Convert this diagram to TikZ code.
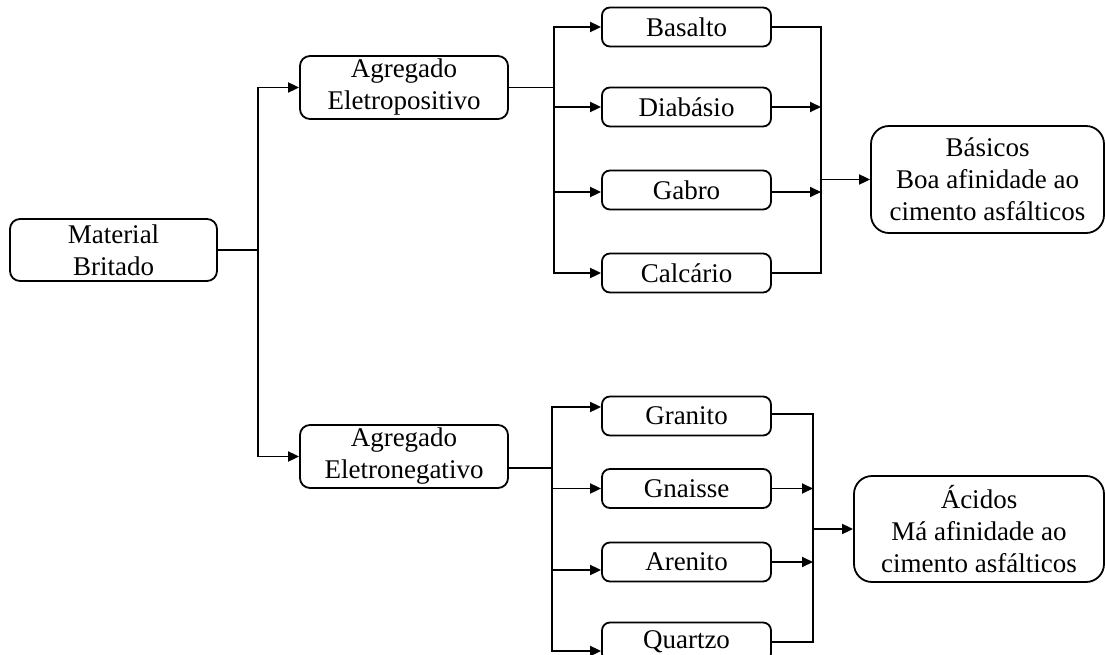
\documentclass[tikz,border=0pt]{standalone}
\usepackage{fontspec}
\setmainfont{Liberation Serif}
\usetikzlibrary{arrows.meta}
\begin{document}
\begin{tikzpicture}[x=1pt,y=-1pt,
  box/.style={draw, line width=1.8pt, rounded corners=8pt, inner sep=0pt,
    align=center, font=\fontsize{27}{32}\selectfont},
  rock/.style={box, minimum width=169pt, minimum height=39pt},
  group/.style={box, rounded corners=18pt, minimum width=#1, minimum height=107pt},
  link/.style={line width=1.8pt},
  arr/.style={link, -{Triangle[length=11pt,width=10pt]}}]
\path[use as bounding box, clip] (0,0) rectangle (1105,655);

% source and the two aggregate classes
\node[box, rounded corners=10pt, minimum width=207pt, minimum height=62pt] (mb) at (113.5,250) {Material\\Britado};
\node[box, rounded corners=10pt, minimum width=208pt, minimum height=63pt] (ap) at (404,87.5) {Agregado\\Eletropositivo};
\node[box, rounded corners=10pt, minimum width=208pt, minimum height=63pt] (an) at (404,456.5) {Agregado\\Eletronegativo};

% basic rocks
\node[rock] (bas) at (686.5,27) {Basalto};
\node[rock] (dia) at (686.5,107) {Diabásio};
\node[rock] (gab) at (686.5,190) {Gabro};
\node[rock] (cal) at (686.5,273) {Calcário};
\node[group=233pt] (bsc) at (987.5,179.5) {Básicos\\Boa afinidade ao\\cimento asfálticos};

% acid rocks
\node[rock] (gra) at (686.5,416) {Granito};
\node[rock] (gna) at (686.5,488.5) {Gnaisse};
\node[rock] (are) at (686.5,562) {Arenito};
\node[rock] (qua) at (686.5,642) {Quartzo};
\node[group=250pt, minimum height=106pt] (aci) at (979,529) {Ácidos\\Má afinidade ao\\cimento asfálticos};

% junction points
\coordinate (tk) at (258,250);
\coordinate (ub) at (554,87.5);
\coordinate (lb) at (552,468);
\coordinate (uc) at (821,179.5);
\coordinate (lc) at (813,529);

% main split
\draw[link] (mb.east) -- (tk);
\draw[arr] (tk) |- (ap.west);
\draw[arr] (tk) |- (an.west);

% upper branch
\draw[link] (ap.east) -- (ub);
\draw[arr] (ub) |- (bas.west);
\draw[arr] (ub) |- (dia.west);
\draw[arr] (ub) |- ([yshift=-2pt]gab.west);
\draw[arr] (ub) |- (cal.west);
\draw[link] (bas.east) -| (uc) |- (cal.east);
\draw[arr] (dia.east) -- (dia.east -| uc);
\draw[arr] ([yshift=-2pt]gab.east) -- ([yshift=-2pt]gab.east -| uc);
\draw[arr] (uc) -- (bsc.west);

% lower branch
\draw[link] (an.east |- lb) -- (lb);
\draw[arr] (lb) |- ([yshift=9pt]gra.west);
\draw[arr] (lb) |- (gna.west);
\draw[arr] (lb) |- ([yshift=-8pt]are.west);
\draw[arr] (lb) |- ([yshift=-9pt]qua.west);
\draw[link] ([yshift=2pt]gra.east) -| (lc) |- (qua.east);
\draw[arr] (gna.east) -- (gna.east -| lc);
\draw[arr] (are.east) -- (are.east -| lc);
\draw[arr] (lc) -- (aci.west);
\end{tikzpicture}
\end{document}
